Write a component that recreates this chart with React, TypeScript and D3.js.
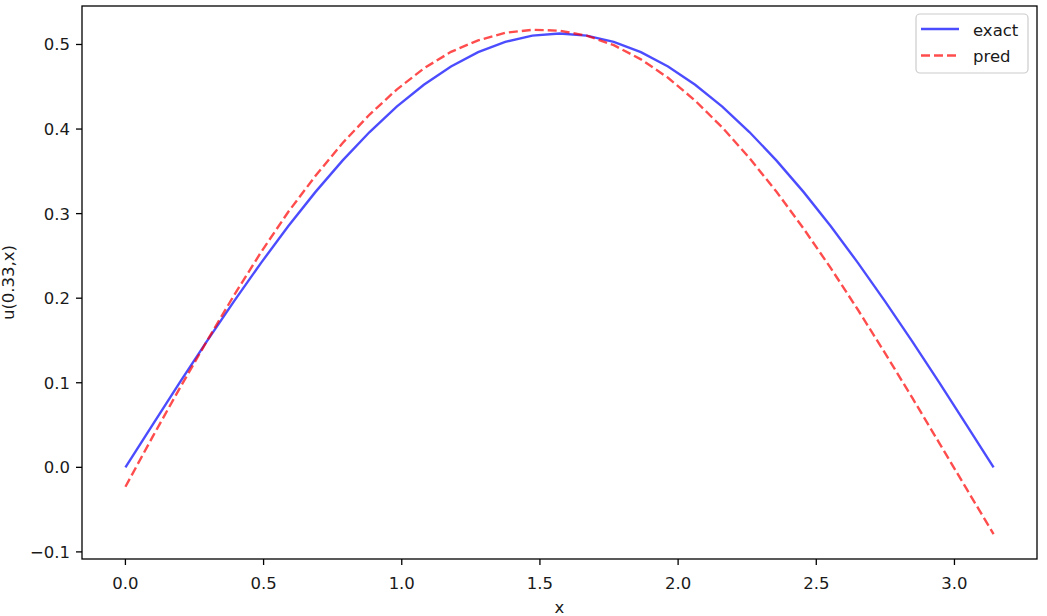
import React from "react";
import * as d3 from "d3";

const xs = [0, 0.0982, 0.1963, 0.2945, 0.3927, 0.4909, 0.589, 0.6872, 0.7854, 0.8836, 0.9817, 1.0799, 1.1781, 1.2763, 1.3744, 1.4726, 1.5708, 1.669, 1.7671, 1.8653, 1.9635, 2.0617, 2.1598, 2.258, 2.3562, 2.4544, 2.5525, 2.6507, 2.7489, 2.8471, 2.9452, 3.0434, 3.1416];
const exact = [0, 0.0503, 0.1001, 0.1489, 0.1963, 0.2418, 0.285, 0.3254, 0.3627, 0.3965, 0.4266, 0.4524, 0.474, 0.4909, 0.5031, 0.5105, 0.513, 0.5105, 0.5031, 0.4909, 0.474, 0.4524, 0.4266, 0.3965, 0.3627, 0.3254, 0.285, 0.2418, 0.1963, 0.1489, 0.1001, 0.0503, 0];
const pred = [-0.023, 0.036, 0.0934, 0.1491, 0.2033, 0.2545, 0.3019, 0.3444, 0.3833, 0.4172, 0.4467, 0.4717, 0.4913, 0.5049, 0.5138, 0.5174, 0.5163, 0.5105, 0.4992, 0.4824, 0.4607, 0.4336, 0.4019, 0.3658, 0.3258, 0.2821, 0.2355, 0.1863, 0.135, 0.0823, 0.0287, -0.0253, -0.0789];
const xTicks = [0, 0.5, 1.0, 1.5, 2.0, 2.5, 3.0];
const yTicks = [-0.1, 0, 0.1, 0.2, 0.3, 0.4, 0.5];
const seriesNames = ["exact", "pred"];

const W = 1047, H = 616;
const L = 82, R = 1037, T = 6, B = 559;
const FONT = "DejaVu Sans, sans-serif";
const FS = 16.5;
const TXT = "#1a1a1a";
const LW = 2.4;
const DASH = "9,4";

export default function App() {
  const x = d3.scaleLinear().domain([-0.1571, 3.2987]).range([L, R]);
  const y = d3.scaleLinear().domain([-0.1084, 0.5455]).range([B, T]);
  const line = (vals: number[]) =>
    d3.line<number>().x((_, i) => x(xs[i])).y((v) => y(v))(vals) || "";
  const fmt = (v: number) => (v < 0 ? "\u2212" : "") + Math.abs(v).toFixed(1);

  return (
    <svg width={W} height={H} style={{ position: "absolute", left: 0, top: 0, background: "#fff" }} fontFamily={FONT}>
      <rect x={0} y={0} width={W} height={H} fill="#fff" />
      <path d={line(exact)} fill="none" stroke="blue" strokeOpacity={0.7} strokeWidth={LW} />
      <path d={line(pred)} fill="none" stroke="red" strokeOpacity={0.7} strokeWidth={LW} strokeDasharray={DASH} />
      <rect x={L} y={T} width={R - L} height={B - T} fill="none" stroke="#000" strokeWidth={1.3} />
      {xTicks.map((t) => (
        <g key={"x" + t}>
          <line x1={x(t)} x2={x(t)} y1={B} y2={B + 6} stroke="#000" strokeWidth={1.3} />
          <text x={x(t)} y={B + 30} textAnchor="middle" fontSize={FS} fill={TXT}>{fmt(t)}</text>
        </g>
      ))}
      {yTicks.map((t) => (
        <g key={"y" + t}>
          <line x1={L - 6} x2={L} y1={y(t)} y2={y(t)} stroke="#000" strokeWidth={1.3} />
          <text x={L - 12} y={y(t) + 6} textAnchor="end" fontSize={FS} fill={TXT}>{fmt(t)}</text>
        </g>
      ))}
      <text x={(L + R) / 2} y={613} textAnchor="middle" fontSize={FS} fill={TXT}>x</text>
      <text transform={`translate(14,${(T + B) / 2}) rotate(-90)`} textAnchor="middle" fontSize={FS} fill={TXT}>u(0.33,x)</text>
      <g>
        <rect x={916} y={14} width={112} height={59} rx={4} fill="#fff" fillOpacity={0.8} stroke="#ccc" strokeWidth={1.2} />
        <line x1={921} x2={959} y1={29} y2={29} stroke="blue" strokeOpacity={0.7} strokeWidth={LW} />
        <line x1={921} x2={959} y1={55.5} y2={55.5} stroke="red" strokeOpacity={0.7} strokeWidth={LW} strokeDasharray={DASH} />
        <text x={973} y={35.5} fontSize={FS} fill={TXT}>{seriesNames[0]}</text>
        <text x={973} y={61.5} fontSize={FS} fill={TXT}>{seriesNames[1]}</text>
      </g>
    </svg>
  );
}
